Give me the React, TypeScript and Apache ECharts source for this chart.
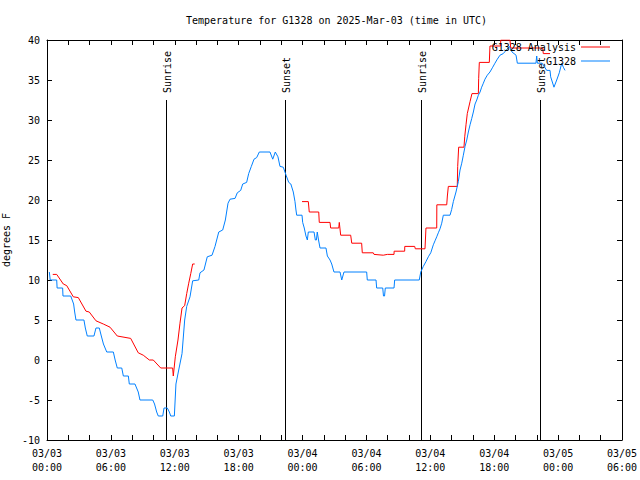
import React, { useEffect, useRef } from "react";
import * as echarts from "echarts";

const TITLE = "Temperature for G1328 on 2025-Mar-03 (time in UTC)";
const Y_NAME = "degrees F";
const ANALYSIS_NAME = "G1328 Analysis";
const OBS_NAME = "G1328";
const X_MIN_HOURS = 0;
const X_MAX_HOURS = 54;
const X_STEP_HOURS = 6;
const Y_MIN = -10;
const Y_MAX = 40;
const Y_STEP = 5;

// hours since 03/03 00:00 UTC, temperature (F)
const analysisPoints: [number, number | null][] = [
  [0.54, 10.7], [0.91, 10.7], [1.53, 9.5], [1.85, 9.3], [2.47, 7.9], [2.94, 7.8],
  [3.66, 6.1], [3.97, 6.0], [4.6, 4.9], [5.29, 4.5], [5.92, 4.1], [6.6, 3.0],
  [7.86, 2.7], [8.57, 0.9], [9.04, 0.6], [9.61, 0], [9.98, 0], [10.68, -1.0],
  [11.8, -1.0], [11.86, -2.0], [12.05, 0.4], [12.3, 2.5], [12.49, 4.6], [12.68, 6.5],
  [12.93, 6.8], [13.12, 8.3], [13.31, 9.6], [13.5, 10.8], [13.68, 12.0], [13.87, 12.0],
  [18.0, null],
  [23.95, 19.8], [24.54, 19.8], [24.63, 18.5], [25.52, 18.5], [25.57, 17.2], [26.58, 17.2],
  [26.64, 16.5], [27.4, 16.5], [27.45, 17.2], [27.58, 15.6], [28.52, 15.6], [28.62, 14.6],
  [29.55, 14.6], [29.61, 13.4], [30.64, 13.4], [30.71, 13.2], [31.58, 13.1], [31.96, 13.2],
  [32.59, 13.2], [32.6, 13.6], [33.59, 13.6], [33.6, 14.2], [34.53, 14.2], [34.59, 13.9],
  [35.5, 13.9], [35.59, 16.5], [36.6, 16.5], [36.61, 19.4], [37.54, 19.4], [37.6, 20.5],
  [37.69, 21.7], [38.53, 21.7], [38.57, 24.2], [38.66, 26.6], [39.16, 26.6], [39.23, 27.9],
  [39.35, 29.4], [39.47, 30.8], [39.73, 32.3], [39.91, 33.3], [40.51, 33.3], [40.54, 35.2],
  [40.6, 37.2], [41.54, 37.2], [41.6, 39.25], [42.6, 39.25], [42.61, 40], [43.48, 40],
  [43.55, 39], [46.55, 39], [46.61, 38.3], [47.24, 38.3],
];

const observedPoints: [number, number][] = [
  [0.22, 11], [0.3, 10], [0.91, 10], [0.95, 9], [1.47, 9], [1.5, 8], [2.23, 8],
  [2.5, 7], [2.6, 6], [2.72, 5], [3.47, 5], [3.6, 4], [3.78, 3], [4.41, 3], [4.6, 4],
  [4.91, 4], [5.1, 3], [5.3, 2], [5.61, 1], [6.23, 1], [6.4, 0], [6.6, -1], [7.02, -1],
  [7.17, -2], [7.64, -2], [7.73, -3], [8.26, -3], [8.57, -4], [8.73, -5], [9.93, -5],
  [10.1, -5.5], [10.3, -6.5], [10.45, -7], [10.87, -7], [10.99, -6], [11.3, -6],
  [11.49, -6.5], [11.62, -7], [11.96, -7], [12.11, -3], [12.37, -1.25], [12.68, 0.8],
  [12.93, 5], [13.12, 6.7], [13.43, 7.9], [13.68, 9.9], [14.25, 10], [14.37, 10.9],
  [14.74, 11.25], [15.05, 12.9], [15.5, 13.1], [15.78, 14.2], [16.13, 16], [16.5, 16.25],
  [16.75, 17.5], [17.0, 19.6], [17.19, 20.1], [17.66, 20.2], [17.87, 20.9], [18.19, 21.2],
  [18.38, 22], [18.75, 22.2], [18.94, 23.3], [19.19, 24.2], [19.44, 25.1], [19.69, 25.3],
  [19.94, 26], [20.94, 26], [21.2, 25.1], [21.44, 26], [21.69, 25.4], [21.88, 24.2],
  [22.19, 24.1], [22.45, 23.1], [22.7, 22.2], [22.9, 22], [23.13, 21], [23.29, 19.8],
  [23.38, 18.75], [23.45, 18.1], [23.95, 18.1], [24.01, 17.2], [24.16, 16.5], [24.32, 15.5],
  [24.45, 15], [24.54, 16], [25.08, 16], [25.2, 15], [25.3, 15], [25.38, 16], [25.5, 15],
  [25.64, 14], [26.2, 14], [26.33, 13], [26.58, 12.5], [26.74, 12], [26.95, 11], [27.52, 11],
  [27.68, 10], [27.89, 11], [30.02, 11], [30.08, 10], [30.9, 10], [30.96, 9], [31.53, 9],
  [31.6, 8], [31.7, 8], [31.77, 9], [32.59, 9], [32.65, 10], [34.96, 10], [35.03, 10.5],
  [35.1, 11], [35.34, 11.7], [35.59, 12.3], [35.81, 12.9], [36.04, 13.4], [36.28, 14.4],
  [36.44, 14.9], [36.6, 15.4], [36.75, 15.9], [36.91, 16.4], [37.07, 17.1], [37.22, 18.1],
  [37.85, 18.1], [38.0, 18.8], [38.16, 19.8], [38.41, 21], [38.63, 22.3], [38.79, 23.75],
  [38.95, 24.6], [39.1, 25.6], [39.26, 26.7], [39.42, 27.5], [39.57, 28.5], [39.73, 29.4],
  [39.89, 30.2], [40.04, 31], [40.2, 32], [40.36, 32.5], [40.51, 33.1], [40.67, 33.5],
  [40.82, 34.1], [40.98, 34.6], [41.13, 35.1], [41.35, 35.6], [41.6, 36], [41.86, 36.6],
  [42.07, 37.1], [42.29, 37.6], [42.54, 38.1], [42.85, 38.3], [43.42, 39.2], [43.67, 38.5],
  [44.05, 38.1], [44.17, 37.1], [45.92, 37.1], [45.99, 38], [46.05, 37.1], [46.5, 37.1],
  [46.93, 36.2], [47.24, 36.2], [47.3, 35.4], [47.61, 34.1], [47.87, 35], [48.11, 35.9],
  [48.34, 37.1], [48.49, 36.6], [48.65, 36.2],
];

const sunEventHours = [11.18, 22.35, 35.12, 46.3];
const sunEventLabels = ["Sunrise", "Sunset", "Sunrise", "Sunset"];
const SUN_LINE_TOP = 32.5;

const FONT = "DejaVu Sans Mono";
const RED = "#ff0000";
const BLUE = "#0080ff";

const pad = (n: number) => (n < 10 ? "0" + n : "" + n);
const fmtHour = (v: number) => {
  const day = 3 + Math.floor(v / 24);
  const hr = Math.round(v % 24);
  return `03/${pad(day)}\n${pad(hr)}:00`;
};

export default function App() {
  const ref = useRef<HTMLDivElement>(null);
  useEffect(() => {
    if (!ref.current) return;
    const chart = echarts.init(ref.current, null, { renderer: "svg" });
    const tick = { show: true, inside: true, length: 5, lineStyle: { color: "#000" } };
    const minor = { show: true, splitNumber: 3, length: 5, lineStyle: { color: "#000" } };
    const axisLine = { show: true, onZero: false, lineStyle: { color: "#000", width: 1 } };
    const option: any = {
      animation: false,
      backgroundColor: "#fff",
      textStyle: { fontFamily: FONT },
      title: {
        text: TITLE,
        left: 181,
        top: 10,
        textStyle: { fontFamily: FONT, fontSize: 10, fontWeight: "normal", color: "#000" },
      },
      legend: [
        {
          data: [ANALYSIS_NAME],
          right: 30,
          top: 42,
          padding: 0,
          align: "right",
          icon: "rect",
          itemWidth: 29,
          itemHeight: 1,
          textStyle: { fontFamily: FONT, fontSize: 10, color: "#000" },
        },
        {
          data: [OBS_NAME],
          right: 30,
          top: 56,
          padding: 0,
          align: "right",
          icon: "rect",
          itemWidth: 29,
          itemHeight: 1,
          textStyle: { fontFamily: FONT, fontSize: 10, color: "#000" },
        },
      ],
      grid: {
        left: 47,
        right: 18,
        top: 40,
        bottom: 40,
        containLabel: false,
        outerBoundsMode: "none",
      },
      xAxis: [
        {
          type: "value",
          min: X_MIN_HOURS,
          max: X_MAX_HOURS,
          interval: X_STEP_HOURS,
          position: "bottom",
          axisLine,
          axisTick: tick,
          minorTick: minor,
          splitLine: { show: false },
          axisLabel: {
            formatter: fmtHour,
            fontFamily: FONT,
            fontSize: 10,
            color: "#000",
            lineHeight: 14,
            margin: 6,
            showMinLabel: true,
            showMaxLabel: true,
          },
        },
        {
          type: "value",
          min: X_MIN_HOURS,
          max: X_MAX_HOURS,
          interval: X_STEP_HOURS,
          position: "top",
          axisLine,
          axisTick: tick,
          minorTick: minor,
          splitLine: { show: false },
          axisLabel: { show: false },
        },
      ],
      yAxis: [
        {
          type: "value",
          min: Y_MIN,
          max: Y_MAX,
          interval: Y_STEP,
          position: "left",
          name: Y_NAME,
          nameLocation: "middle",
          nameGap: 33,
          nameRotate: 90,
          nameTextStyle: { fontFamily: FONT, fontSize: 10, color: "#000" },
          axisLine,
          axisTick: tick,
          splitLine: { show: false },
          axisLabel: { fontFamily: FONT, fontSize: 10, color: "#000", margin: 7 },
        },
        {
          type: "value",
          min: Y_MIN,
          max: Y_MAX,
          interval: Y_STEP,
          position: "right",
          axisLine,
          axisTick: tick,
          splitLine: { show: false },
          axisLabel: { show: false },
        },
      ],
      series: [
        {
          name: ANALYSIS_NAME,
          type: "line",
          xAxisIndex: 0,
          yAxisIndex: 0,
          data: analysisPoints,
          showSymbol: false,
          symbol: "none",
          connectNulls: false,
          lineStyle: { color: RED, width: 1 },
          itemStyle: { color: RED },
        },
        {
          name: OBS_NAME,
          type: "line",
          xAxisIndex: 0,
          yAxisIndex: 0,
          data: observedPoints,
          showSymbol: false,
          symbol: "none",
          lineStyle: { color: BLUE, width: 1 },
          itemStyle: { color: BLUE },
        },
        {
          name: "sun",
          type: "custom",
          xAxisIndex: 0,
          yAxisIndex: 0,
          data: sunEventHours.map((h, i) => [h, i]),
          silent: true,
          clip: false,
          renderItem: (params: any, api: any) => {
            const h = api.value(0);
            const idx = api.value(1);
            const top = api.coord([h, SUN_LINE_TOP]);
            const bottom = api.coord([h, Y_MIN]);
            const px = Math.round(top[0]) + 0.5;
            return {
              type: "group",
              children: [
                {
                  type: "line",
                  shape: { x1: px, y1: Math.round(top[1]), x2: px, y2: Math.round(bottom[1]) },
                  style: { stroke: "#000", lineWidth: 1 },
                },
                {
                  type: "text",
                  x: px + 0.5,
                  y: top[1] - 7,
                  rotation: Math.PI / 2,
                  style: {
                    text: sunEventLabels[idx],
                    x: 0,
                    y: 0,
                    fill: "#000",
                    fontFamily: FONT,
                    fontSize: 10,
                    align: "left",
                    verticalAlign: "middle",
                  },
                },
              ],
            };
          },
        },
      ],
    };
    chart.setOption(option);
    return () => chart.dispose();
  }, []);
  return (
    <div
      ref={ref}
      style={{ position: "fixed", left: 0, top: 0, width: 640, height: 480 }}
    />
  );
}
